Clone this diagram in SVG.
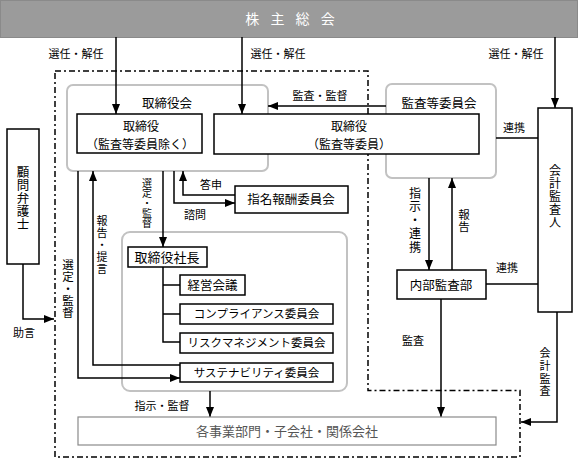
<svg xmlns="http://www.w3.org/2000/svg" width="578" height="459" viewBox="0 0 578 459">
<style>
.box{fill:#fff;stroke:#000;stroke-width:1.5}
.gbox{fill:#fff;stroke:#c2c2c2;stroke-width:2}
.c{fill:none;stroke:#000;stroke-width:1.5}
.frame{fill:none;stroke:#000;stroke-width:1.5;stroke-dasharray:6 3 2 3}
text{font-family:"Noto Sans CJK JP","Noto Sans",sans-serif;fill:#000;text-anchor:middle}
.v{writing-mode:vertical-rl;text-orientation:upright}
.s{font-size:11px}
.m{font-size:12.5px}
.k{font-size:11.5px}
.d{font-size:12px}
</style>
<defs>
<marker id="ah" markerUnits="userSpaceOnUse" markerWidth="10" markerHeight="10" viewBox="0 0 10 10" refX="10" refY="5" orient="auto">
<path d="M0,1 L10,5 L0,9 Z" fill="#000"/>
</marker>
</defs>
<rect width="578" height="459" fill="#fff"/>

<g id="shareholders">
<rect x="0.5" y="0.5" width="577" height="37" fill="#9b9b9b" stroke="#8a8a8a"/>
<text x="292" y="24" style="font-size:14px;fill:#fff" letter-spacing="4">株 主 総 会</text>
</g>

<g id="board">
<rect class="gbox" x="67" y="85" width="201" height="86" rx="6"/>
<text class="m" x="167" y="107.5">取締役会</text>
</g>
<g id="audit-committee">
<rect class="gbox" x="386" y="84" width="110" height="94" rx="6"/>
<text class="m" x="439" y="107.5">監査等委員会</text>
</g>
<g id="operations">
<rect class="gbox" x="122" y="232" width="225" height="159" rx="8"/>
</g>

<path class="frame" d="M55,71 H368 V390.5 H520 V457 H55 Z"/>

<g id="connectors">
<path class="c" d="M116,37 V114" marker-end="url(#ah)"/>
<path class="c" d="M242,37 V114" marker-end="url(#ah)"/>
<path class="c" d="M555,37 V108" marker-end="url(#ah)"/>
<path class="c" d="M386,106 H268" marker-end="url(#ah)"/>
<path class="c" d="M496,138 H538"/>
<path class="c" d="M486,284 H538"/>
<path class="c" d="M429,178 V270" marker-end="url(#ah)"/>
<path class="c" d="M452,270 V178" marker-end="url(#ah)"/>
<path class="c" d="M441,299 V417" marker-end="url(#ah)"/>
<path class="c" d="M557,312 V422 H521" marker-end="url(#ah)"/>
<path class="c" d="M23,264 V319 H54" marker-end="url(#ah)"/>
<path class="c" d="M163,171 V247" marker-end="url(#ah)"/>
<path class="c" d="M174,171 V203 H235" marker-end="url(#ah)"/>
<path class="c" d="M235,195 H183 V171" marker-end="url(#ah)"/>
<path class="c" d="M78,171 V378 H180" marker-end="url(#ah)"/>
<path class="c" d="M180,365 H93 V171" marker-end="url(#ah)"/>
<path class="c" d="M163,267 V342 H180 M163,285 H180 M163,314 H180"/>
<path class="c" d="M210,391 V417" marker-end="url(#ah)"/>
</g>

<g id="labels">
<text class="s" x="76" y="58">選任・解任</text>
<text class="s" x="278" y="58">選任・解任</text>
<text class="s" x="516" y="58">選任・解任</text>
<text class="s" x="320" y="100">監査・監督</text>
<text class="s" x="514" y="132">連携</text>
<text class="s" x="507" y="272">連携</text>
<text class="s" x="413" y="345">監査</text>
<text class="s" x="211" y="189">答申</text>
<text class="s" x="195" y="219">諮問</text>
<text class="s" x="24" y="337">助言</text>
<text class="s" x="162" y="410">指示・監督</text>
<text class="v" style="font-size:10px" x="147" y="203">選定・監督</text>
<text class="v" style="font-size:11px" letter-spacing="1" x="102" y="245">報告・提言</text>
<text class="v" style="font-size:11.5px" letter-spacing="0.5" x="68" y="289">選定・監督</text>
<text class="v" style="font-size:12px" letter-spacing="1.5" x="415" y="221">指示・連携</text>
<text class="v" style="font-size:11.5px" letter-spacing="0.5" x="464" y="221">報告</text>
<text class="v" style="font-size:11px" letter-spacing="1.7" x="545" y="373">会計監査</text>
</g>

<g id="directors">
<rect class="box" x="77" y="114" width="125" height="39"/>
<text class="d"><tspan x="141" y="131">取締役</tspan><tspan x="140" y="148.5">（監査等委員除く）</tspan></text>
</g>
<g id="audit-directors">
<rect class="box" x="214" y="114" width="265" height="40"/>
<text class="d"><tspan x="349" y="131">取締役</tspan><tspan x="349" y="148.5">（監査等委員）</tspan></text>
</g>
<g id="accounting-auditor">
<rect class="box" x="538" y="108" width="34" height="204"/>
<text class="v" style="font-size:12px" letter-spacing="1" x="555" y="197">会計監査人</text>
</g>
<g id="internal-audit">
<rect class="box" x="397" y="270" width="89" height="29"/>
<text class="m" x="441" y="289.5">内部監査部</text>
</g>
<g id="nomination">
<rect class="box" x="235" y="186" width="113" height="27"/>
<text class="m" x="291" y="204">指名報酬委員会</text>
</g>
<g id="lawyer">
<rect class="box" x="7" y="129" width="32" height="135"/>
<text class="v m" letter-spacing="0.5" x="23" y="198">顧問弁護士</text>
</g>
<g id="president">
<rect class="box" x="128" y="247" width="79" height="20"/>
<text style="font-size:13px" x="167" y="261.5">取締役社長</text>
</g>
<g id="management-meeting">
<rect class="box" x="180" y="275" width="65" height="20"/>
<text class="m" x="212.5" y="289.5">経営会議</text>
</g>
<g id="compliance">
<rect class="box" x="180" y="304" width="153" height="20"/>
<text class="k" x="256.5" y="318">コンプライアンス委員会</text>
</g>
<g id="risk">
<rect class="box" x="180" y="333" width="153" height="20"/>
<text class="k" x="256.5" y="347">リスクマネジメント委員会</text>
</g>
<g id="sustainability">
<rect class="box" x="180" y="363" width="153" height="19"/>
<text class="k" x="256.5" y="376.5">サステナビリティ委員会</text>
</g>
<g id="business-units">
<rect x="78" y="417" width="418" height="28" fill="#fff" stroke="#8a8a8a" stroke-width="1.2"/>
<text style="font-size:13px;fill:#555" x="287" y="436">各事業部門・子会社・関係会社</text>
</g>
</svg>
